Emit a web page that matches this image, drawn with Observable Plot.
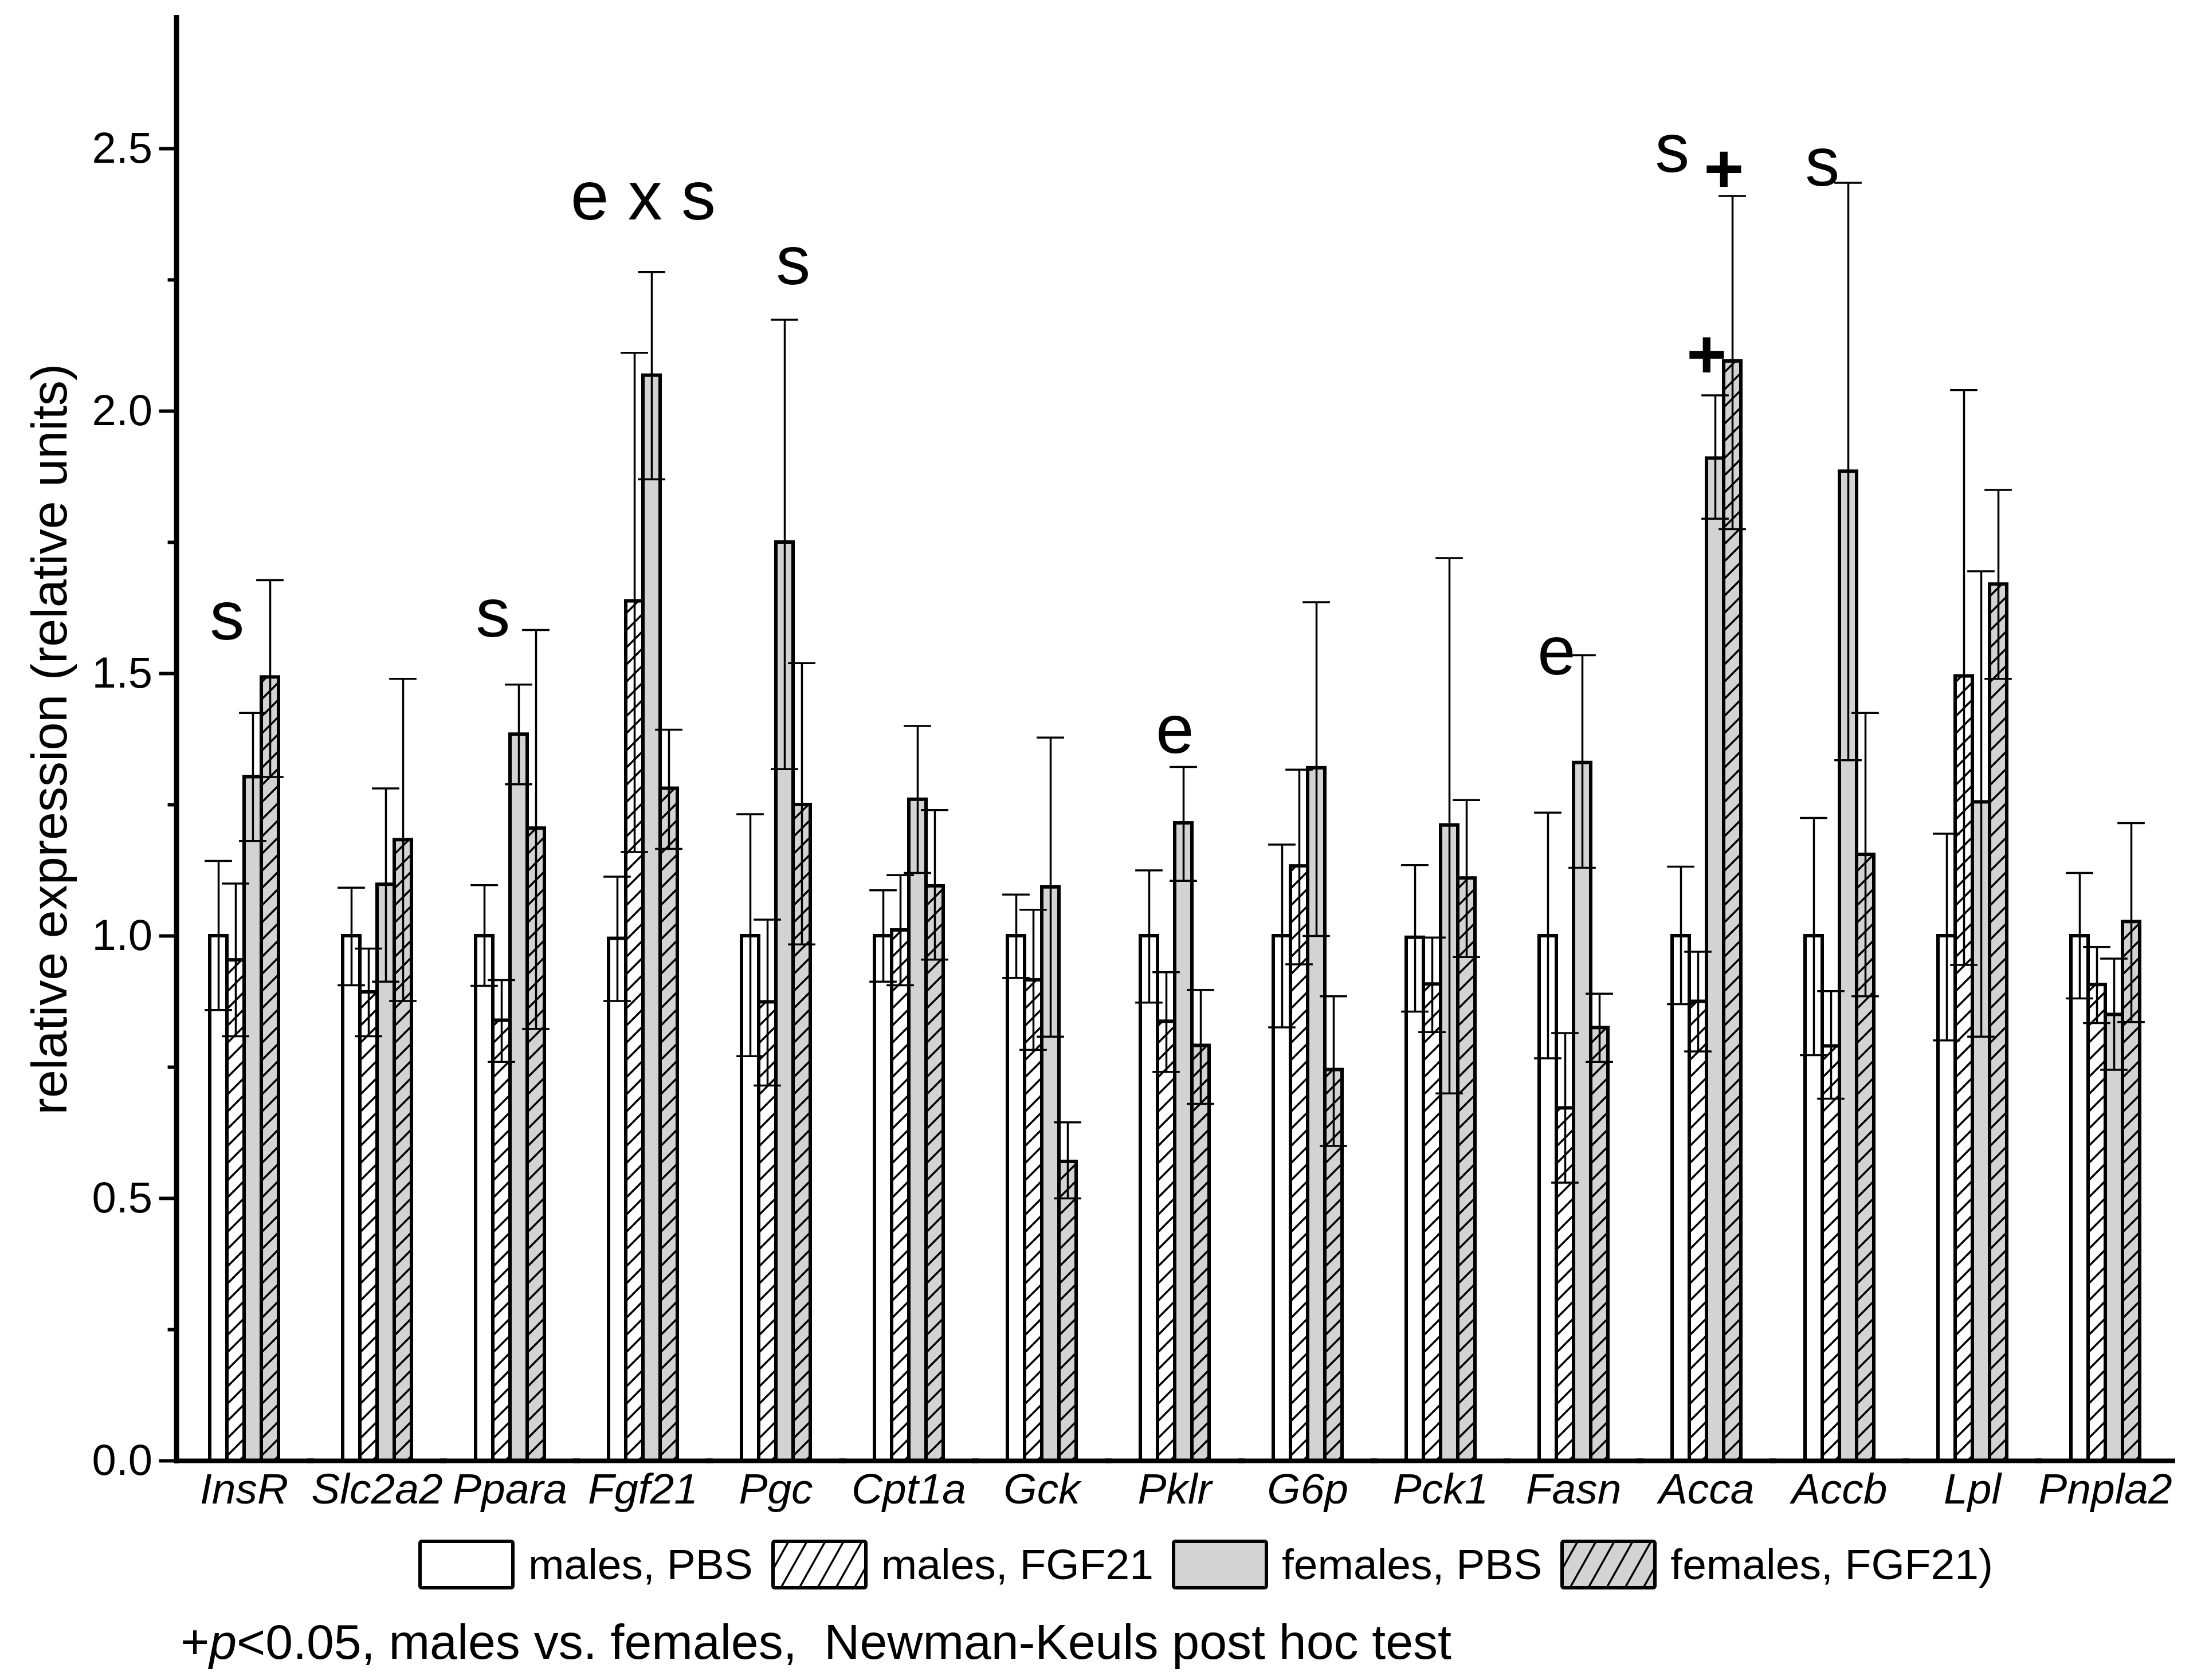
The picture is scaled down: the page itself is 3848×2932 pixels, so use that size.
<!DOCTYPE html>
<html>
<head>
<meta charset="utf-8">
<script src="https://cdn.jsdelivr.net/npm/d3@7"></script>
<script src="https://cdn.jsdelivr.net/npm/@observablehq/plot@0.6"></script>
<style>
html, body { margin: 0; padding: 0; background: #fff; }
#wrap { position: relative; width: 3848px; height: 2932px; font-family: "Liberation Sans", Arial, sans-serif; color: #000; background: #fff; overflow: hidden; }
#chart { position: absolute; left: 0; top: 0; }
#chart svg [aria-label="fx-axis tick label"] text { font-style: italic; }
#chart svg [aria-label="y-axis tick"] { stroke-width: 6px; }
#chart svg [aria-label="y-axis tick"] path { stroke-width: 6px; }
#legend { position: absolute; left: 730px; top: 2687px; height: 87px; display: flex; align-items: center; }
#legend .sw { display: block; flex: none; }
#legend .lt { font-size: 75px; line-height: 75px; white-space: nowrap; margin-left: 24px; margin-right: 32px; }
#caption { position: absolute; left: 315px; top: 2822px; font-size: 86px; line-height: 86px; white-space: pre; }
#defs { position: absolute; width: 0; height: 0; }
</style>
</head>
<body>
<div id="wrap">
  <svg id="defs" width="0" height="0"></svg>
  <div id="chart"></div>
  <div id="legend"></div>
  <div id="caption"></div>
</div>
<script>
// ---------- data ----------
const genes = ["InsR", "Slc2a2", "Ppara", "Fgf21", "Pgc", "Cpt1a", "Gck", "Pklr", "G6p", "Pck1", "Fasn", "Acca", "Accb", "Lpl", "Pnpla2"];
const series = ["males, PBS", "males, FGF21", "females, PBS", "females, FGF21"];
const legendLabels = ["males, PBS", "males, FGF21", "females, PBS", "females, FGF21)"];

const malesPBS     = [1.00, 1.00, 1.00, 0.995, 1.00, 1.00, 1.00, 1.00, 1.00, 0.997, 1.00, 1.00, 1.00, 1.00, 1.00];
const malesPBSHi   = [1.143, 1.092, 1.097, 1.113, 1.232, 1.087, 1.079, 1.125, 1.174, 1.135, 1.235, 1.132, 1.225, 1.195, 1.12];
const malesPBSLo   = [0.859, 0.906, 0.905, 0.876, 0.771, 0.913, 0.92, 0.873, 0.826, 0.856, 0.767, 0.87, 0.773, 0.801, 0.881];

const malesFGF21   = [0.954, 0.893, 0.839, 1.638, 0.874, 1.011, 0.916, 0.837, 1.133, 0.908, 0.672, 0.875, 0.79, 1.495, 0.907];
const malesFGF21Hi = [1.10, 0.976, 0.916, 2.111, 1.031, 1.116, 1.05, 0.931, 1.317, 0.997, 0.815, 0.97, 0.895, 2.04, 0.979];
const malesFGF21Lo = [0.809, 0.809, 0.76, 1.16, 0.715, 0.906, 0.783, 0.741, 0.946, 0.817, 0.53, 0.78, 0.69, 0.945, 0.834];

const femalesPBS   = [1.303, 1.098, 1.384, 2.068, 1.75, 1.26, 1.093, 1.215, 1.32, 1.211, 1.33, 1.91, 1.885, 1.255, 0.85];
const femalesPBSHi = [1.425, 1.281, 1.479, 2.265, 2.174, 1.40, 1.378, 1.322, 1.636, 1.72, 1.535, 2.03, 2.435, 1.695, 0.957];
const femalesPBSLo = [1.181, 0.913, 1.289, 1.87, 1.318, 1.12, 0.808, 1.105, 1.00, 0.70, 1.13, 1.795, 1.335, 0.808, 0.745];

const femalesFGF21   = [1.493, 1.183, 1.205, 1.281, 1.25, 1.095, 0.57, 0.791, 0.745, 1.11, 0.825, 2.095, 1.155, 1.67, 1.027];
const femalesFGF21Hi = [1.678, 1.49, 1.583, 1.393, 1.52, 1.24, 0.645, 0.897, 0.885, 1.259, 0.89, 2.41, 1.425, 1.85, 1.215];
const femalesFGF21Lo = [1.303, 0.876, 0.823, 1.166, 0.984, 0.955, 0.50, 0.68, 0.60, 0.96, 0.76, 1.775, 0.885, 1.49, 0.836];

const yTicks = [0, 0.5, 1.0, 1.5, 2.0, 2.5];
const yMinorTicks = [0.25, 0.75, 1.25, 1.75, 2.25];
const yLabel = "relative expression (relative units)";

// significance letters
const annGenes  = ["InsR", "Ppara", "Fgf21", "Pgc", "Pklr", "Fasn", "Acca", "Accb"];
const annSeries = ["males, FGF21", "males, FGF21", "females, PBS", "females, FGF21", "females, PBS", "males, FGF21", "males, PBS", "males, FGF21"];
const annValues = [1.565, 1.57, 2.365, 2.242, 1.349, 1.498, 2.456, 2.43];
const annLabels = ["s", "s", "e x s", "s", "e", "e", "s", "s"];

// "+" marks (males vs. females)
const plusGenes  = ["Acca", "Acca"];
const plusSeries = ["females, FGF21", "females, PBS"];
const plusValues = [2.416, 2.063];

// ---------- tables for the library ----------
const means = [malesPBS, malesFGF21, femalesPBS, femalesFGF21];
const his = [malesPBSHi, malesFGF21Hi, femalesPBSHi, femalesFGF21Hi];
const los = [malesPBSLo, malesFGF21Lo, femalesPBSLo, femalesFGF21Lo];
const rows = series.flatMap((s, i) => genes.map((g, j) => ({gene: g, series: s, value: means[i][j], hi: his[i][j], lo: los[i][j]})));
const annRows = annGenes.map((g, i) => ({gene: g, series: annSeries[i], value: annValues[i], label: annLabels[i]}));
const plusRows = plusGenes.map((g, i) => ({gene: g, series: plusSeries[i], value: plusValues[i], label: "+"}));

// ---------- layout ----------
const W = 3848, H = 2660, mL = 308, mR = 76, mT = 30, mB = 111;
const pIn = 0.478, pOut = 0.2045, align = 0.605;
const plotW = W - mL - mR, n = genes.length;
const step = plotW / (n - pIn + 2 * pOut);
const lead = (plotW - step * (n - pIn)) * align;
const bw = step * (1 - pIn);
const barW = bw / series.length;
const capW = 48;
const capInset = -(capW - barW) / 2;
const baseExt = -((step - bw) / 2 + 2);

const fills = ["white", "url(#hatchW)", "#d3d3d3", "url(#hatchG)"];

const svg = Plot.plot({
  width: W, height: H,
  marginLeft: mL, marginRight: mR, marginTop: mT, marginBottom: mB,
  style: {fontFamily: '"Liberation Sans", Arial, sans-serif', background: "white", color: "black", overflow: "visible"},
  fx: {domain: genes, paddingInner: pIn, paddingOuter: pOut, align, label: null},
  x: {domain: series, padding: 0, axis: null},
  y: {domain: [0, 2.75], axis: null},
  color: {type: "ordinal", domain: series, range: fills},
  marks: [
    Plot.barY(rows, {fx: "gene", x: "series", y: "value", fill: "series", stroke: "black", strokeWidth: 6}),
    Plot.ruleX(rows, {fx: "gene", x: "series", y1: "lo", y2: "hi", stroke: "black", strokeWidth: 3.5}),
    Plot.tickY(rows, {fx: "gene", x: "series", y: "hi", stroke: "black", strokeWidth: 3.5, insetLeft: capInset, insetRight: capInset}),
    Plot.tickY(rows, {fx: "gene", x: "series", y: "lo", stroke: "black", strokeWidth: 3.5, insetLeft: capInset, insetRight: capInset}),
    Plot.text(annRows, {fx: "gene", x: "series", y: "value", text: "label", fontSize: 120, lineAnchor: "bottom", dx: -barW / 2, fill: "black"}),
    Plot.text(plusRows, {fx: "gene", x: "series", y: "value", text: "label", fontSize: 120, fontWeight: "bold", lineAnchor: "bottom", dx: -barW / 2, fill: "black"}),
    Plot.axisY({ticks: yTicks, tickFormat: d3.format(".1f"), tickSize: 30, tickPadding: 12, fontSize: 76, strokeWidth: 6, label: null, dx: -lead}),
    Plot.axisY({ticks: yMinorTicks, tickFormat: () => "", tickSize: 15, strokeWidth: 6, label: null, dx: -lead}),
    Plot.axisFx({anchor: "bottom", tickSize: 0, tickPadding: 21, fontSize: 75, fontStyle: "italic", label: null}),
    Plot.frame({anchor: "bottom", insetLeft: baseExt, insetRight: baseExt, stroke: "black", strokeWidth: 8}),
    Plot.frame({anchor: "left", facetAnchor: "left", dx: -lead, stroke: "black", strokeWidth: 9, strokeLinecap: "square"}),
    Plot.text([yLabel], {facetAnchor: "left", frameAnchor: "left", text: d => d, rotate: -90, textAnchor: "middle", fontSize: 88, lineAnchor: "bottom", dx: -lead - 192, fill: "black"})
  ]
});

// hatch patterns
function addHatch(defs, id, bg, w, h, sw) {
  const p = defs.append("pattern").attr("id", id).attr("patternUnits", "userSpaceOnUse")
    .attr("width", w).attr("height", h);
  p.append("rect").attr("width", w).attr("height", h).attr("fill", bg);
  p.append("path")
    .attr("d", `M${-w},${h}L${w},${-h}M${-w},${2 * h}L${2 * w},${-h}M0,${2 * h}L${2 * w},0`)
    .attr("stroke", "black").attr("stroke-width", sw).attr("fill", "none");
}
const defs = d3.select(svg).insert("defs", ":first-child");
addHatch(defs, "hatchW", "white", 30, 30, 3.5);
addHatch(defs, "hatchG", "#d3d3d3", 30, 30, 3.5);
document.getElementById("chart").appendChild(svg);

// legend
const ldefs = d3.select("#defs").append("defs");
addHatch(ldefs, "lhW", "white", 32, 57, 3.5);
addHatch(ldefs, "lhG", "#d3d3d3", 32, 57, 3.5);
const legendFills = ["white", "url(#lhW)", "#d3d3d3", "url(#lhG)"];
const legend = d3.select("#legend");
legendLabels.forEach((lab, i) => {
  const s = legend.append("svg").attr("class", "sw").attr("width", 168).attr("height", 87);
  s.append("rect").attr("x", 3).attr("y", 3).attr("width", 162).attr("height", 81).attr("rx", 3)
    .attr("fill", legendFills[i]).attr("stroke", "black").attr("stroke-width", 6);
  legend.append("span").attr("class", "lt").text(lab);
});

// caption
const cap = d3.select("#caption");
cap.append("span").text("+");
cap.append("i").text("p");
cap.append("span").text("<0.05, males vs. females,  Newman-Keuls post hoc test");
</script>
</body>
</html>
